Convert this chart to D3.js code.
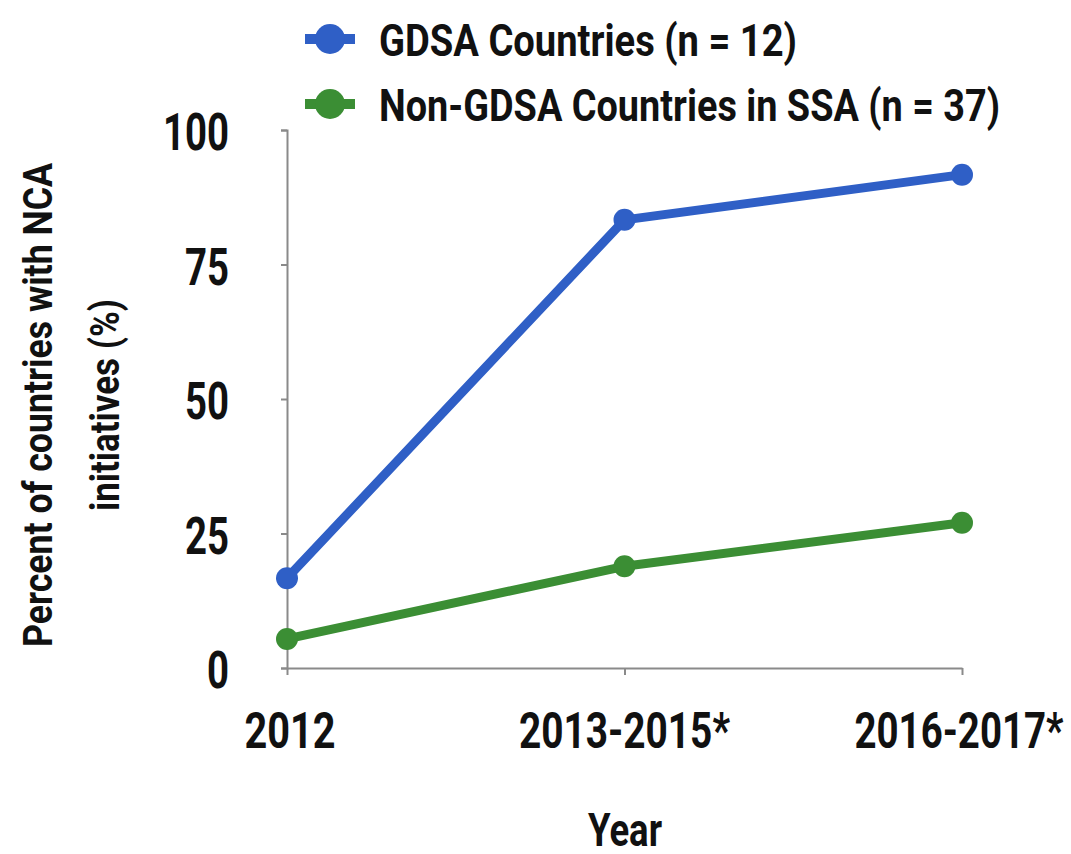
<!DOCTYPE html>
<html>
<head>
<meta charset="utf-8">
<script src="https://cdn.jsdelivr.net/npm/d3@7"></script>
<style>
html,body{margin:0;padding:0;background:#fff;}
svg{display:block;}
text{font-family:"Roboto","Liberation Sans",sans-serif;font-weight:bold;fill:#111;}
</style>
</head>
<body>
<svg id="chart" width="1071" height="854"></svg>
<script>
const categories = ["2012", "2013-2015*", "2016-2017*"];
const gdsaValues = [16.7, 83.3, 91.7];
const nonGdsaValues = [5.4, 18.9, 27.0];
const seriesNames = ["GDSA Countries (n = 12)", "Non-GDSA Countries in SSA (n = 37)"];
const yTicks = [0, 25, 50, 75, 100];
const yTitle = ["Percent of countries with NCA", "initiatives (%)"];
const xTitle = "Year";

const colors = ["#2f5fc6", "#3b8e34"];
const series = [
  {name: seriesNames[0], values: gdsaValues, color: colors[0]},
  {name: seriesNames[1], values: nonGdsaValues, color: colors[1]}
];

const svg = d3.select("#chart");
const x = d3.scalePoint().domain(categories).range([287, 962]);
const y = d3.scaleLinear().domain([0, 100]).range([668, 130]);

// axes
const yAxis = svg.append("g").attr("transform", "translate(287,0)")
  .call(d3.axisLeft(y).tickValues(yTicks).tickSize(6).tickFormat(""));
yAxis.select(".domain").attr("stroke", "#8a8a8a").attr("stroke-width", 2);
yAxis.selectAll(".tick line").attr("stroke", "#8a8a8a").attr("stroke-width", 2);

const xAxis = svg.append("g").attr("transform", "translate(0,668)")
  .call(d3.axisBottom(x).tickSize(7).tickSizeOuter(0).tickFormat(""));
xAxis.select(".domain").attr("stroke", "#8a8a8a").attr("stroke-width", 2);
xAxis.selectAll(".tick line").attr("stroke", "#8a8a8a").attr("stroke-width", 2);

// y tick labels
const yLabelWidths = {"0": 22, "25": 44, "50": 44, "75": 44, "100": 66};
svg.append("g").selectAll("text").data(yTicks).join("text")
  .attr("x", 229).attr("y", d => y(d) + 20)
  .attr("text-anchor", "end")
  .attr("font-size", 51)
  .attr("textLength", d => yLabelWidths[d]).attr("lengthAdjust", "spacingAndGlyphs")
  .text(d => d);

// x tick labels
const xLabelWidths = [91, 211, 209];
const xLabelShift = [3, 0, -3];
svg.append("g").selectAll("text").data(categories).join("text")
  .attr("x", (d, i) => x(d) + xLabelShift[i])
  .attr("y", 748)
  .attr("text-anchor", "middle")
  .attr("font-size", 50)
  .attr("textLength", (d, i) => xLabelWidths[i]).attr("lengthAdjust", "spacingAndGlyphs")
  .text(d => d);

// x title
svg.append("text").attr("x", 625).attr("y", 846).attr("text-anchor", "middle")
  .attr("font-size", 47).attr("textLength", 74).attr("lengthAdjust", "spacingAndGlyphs")
  .text(xTitle);

// y title
const yt = svg.append("g").attr("transform", "translate(0,405) rotate(-90)");
yt.append("text").attr("x", 0).attr("y", 52).attr("text-anchor", "middle")
  .attr("font-family", "'Open Sans', sans-serif")
  .attr("font-size", 41).attr("textLength", 484).attr("lengthAdjust", "spacingAndGlyphs")
  .text(yTitle[0]);
yt.append("text").attr("x", 0).attr("y", 119).attr("text-anchor", "middle")
  .attr("font-family", "'Open Sans', sans-serif")
  .attr("font-size", 41).attr("textLength", 212).attr("lengthAdjust", "spacingAndGlyphs")
  .text(yTitle[1]);

// lines
const line = d3.line().x((d, i) => x(categories[i])).y(d => y(d));
const sg = svg.append("g").selectAll("g").data(series).join("g");
sg.append("path").attr("d", d => line(d.values))
  .attr("fill", "none").attr("stroke", d => d.color).attr("stroke-width", 9)
  .attr("stroke-linejoin", "round");
sg.selectAll("circle").data(d => d.values.map((v, i) => ({v, i, color: d.color}))).join("circle")
  .attr("cx", d => x(categories[d.i])).attr("cy", d => y(d.v)).attr("r", 11)
  .attr("fill", d => d.color);

// legend
const legendY = [39, 104];
const legendW = [418, 621];
const lg = svg.append("g").selectAll("g").data(series).join("g")
  .attr("transform", (d, i) => `translate(0,${legendY[i]})`);
lg.append("line").attr("x1", 305).attr("x2", 355).attr("y1", 0).attr("y2", 0)
  .attr("stroke", d => d.color).attr("stroke-width", 10);
lg.append("circle").attr("cx", 330).attr("cy", 0).attr("r", 15).attr("fill", d => d.color);
lg.append("text").attr("x", 379).attr("y", 17).attr("font-size", 45)
  .attr("textLength", (d, i) => legendW[i]).attr("lengthAdjust", "spacingAndGlyphs")
  .text(d => d.name);
</script>
</body>
</html>
